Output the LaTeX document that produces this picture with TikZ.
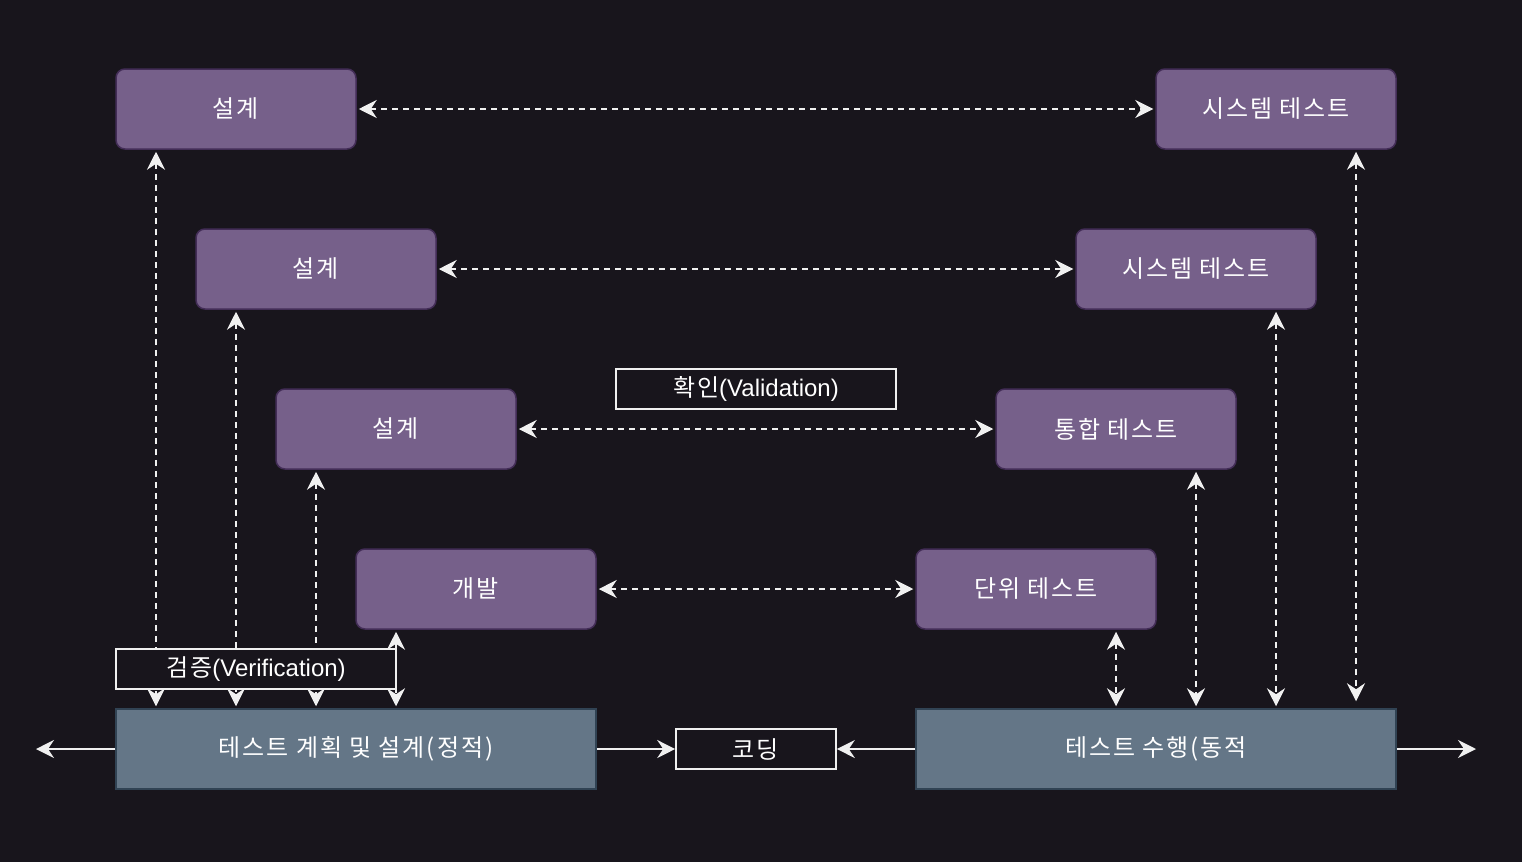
\documentclass[tikz,border=0pt]{standalone}
\usepackage{fontspec}
\setmainfont{Liberation Sans}
\newfontfamily\kr[LetterSpace=8]{Noto Sans CJK KR}
\usetikzlibrary{arrows.meta}
\definecolor{bg}{HTML}{18151C}
\definecolor{pfill}{HTML}{76608A}
\definecolor{pline}{HTML}{432D57}
\definecolor{gfill}{HTML}{647687}
\definecolor{gline}{HTML}{314354}
\definecolor{ln}{HTML}{F0F0F0}
\tikzset{
  txt/.style={font=\fontsize{24}{28}\selectfont, text=white},
  pbox/.style={txt, draw=pline, fill=pfill, line width=1.5pt, rounded corners=9pt, minimum width=240pt, minimum height=80pt, inner sep=0pt},
  gbox/.style={txt, draw=gline, fill=gfill, line width=1.5pt, minimum width=480pt, minimum height=80pt, inner sep=0pt},
  lbox/.style={txt, draw=ln, fill=bg, line width=1.6pt, minimum height=40pt, inner sep=0pt},
  dd/.style={ln, line width=1.8pt, dash pattern=on 6pt off 5pt, {Stealth[length=18pt,width=18pt,inset=6pt]}-{Stealth[length=18pt,width=18pt,inset=6pt]}, shorten <=2pt, shorten >=2pt},
  sa/.style={ln, line width=1.8pt, -{Stealth[length=18pt,width=18pt,inset=6pt]}},
}
\begin{document}
\begin{tikzpicture}[x=1pt,y=-1pt]
\fill[bg] (0,0) rectangle (1522,862);
\useasboundingbox (0,0) rectangle (1522,862);

\node[pbox] (d1) at (236,109) {\kr 설계};
\node[pbox] (s1) at (1276,109) {\kr 시스템 테스트};
\node[pbox] (d2) at (316,269) {\kr 설계};
\node[pbox] (s2) at (1196,269) {\kr 시스템 테스트};
\node[pbox] (d3) at (396,429) {\kr 설계};
\node[pbox] (it) at (1116,429) {\kr 통합 테스트};
\node[pbox] (dev) at (476,589) {\kr 개발};
\node[pbox] (ut) at (1036,589) {\kr 단위 테스트};
\node[gbox] (plan) at (356,749) {\kr 테스트 계획 및 설계(정적)};
\node[gbox] (exec) at (1156,749) {\kr 테스트 수행(동적};
\node[lbox, minimum width=160pt] (code) at (756,749) {\kr 코딩};

\coordinate (lout) at (36,749);
\coordinate (rout) at (1476,749);

% horizontal dashed
\draw[dd] (d1.east) -- (s1.west);
\draw[dd] (d2.east) -- (s2.west);
\draw[dd] (d3.east) -- (it.west);
\draw[dd] (dev.east) -- (ut.west);

% vertical dashed left
\draw[dd] ([xshift=-80pt]d1.south) -- ([xshift=-80pt]d1.south |- plan.north);
\draw[dd] ([xshift=-80pt]d2.south) -- ([xshift=-80pt]d2.south |- plan.north);
\draw[dd] ([xshift=-80pt]d3.south) -- ([xshift=-80pt]d3.south |- plan.north);
\draw[dd] ([xshift=-80pt]dev.south) -- ([xshift=-80pt]dev.south |- plan.north);
% vertical dashed right
\draw[dd] ([xshift=80pt]ut.south) -- ([xshift=80pt]ut.south |- exec.north);
\draw[dd] ([xshift=80pt]it.south) -- ([xshift=80pt]it.south |- exec.north);
\draw[dd] ([xshift=80pt]s2.south) -- ([xshift=80pt]s2.south |- exec.north);
\draw[dd, shorten >=7pt] ([xshift=80pt]s1.south) -- ([xshift=80pt]s1.south |- exec.north);

% solid arrows
\draw[sa] (plan.west) -- (lout);
\draw[sa] (exec.east) -- (rout);
\draw[sa] (plan.east) -- (code.west);
\draw[sa] (exec.west) -- (code.east);

% label boxes
\node[lbox, minimum width=280pt] (val) at (756,389) {{\kr 확인}(Validation)};
\node[lbox, minimum width=280pt] (ver) at (256,669) {{\kr 검증}(Verification)};
\end{tikzpicture}
\end{document}
